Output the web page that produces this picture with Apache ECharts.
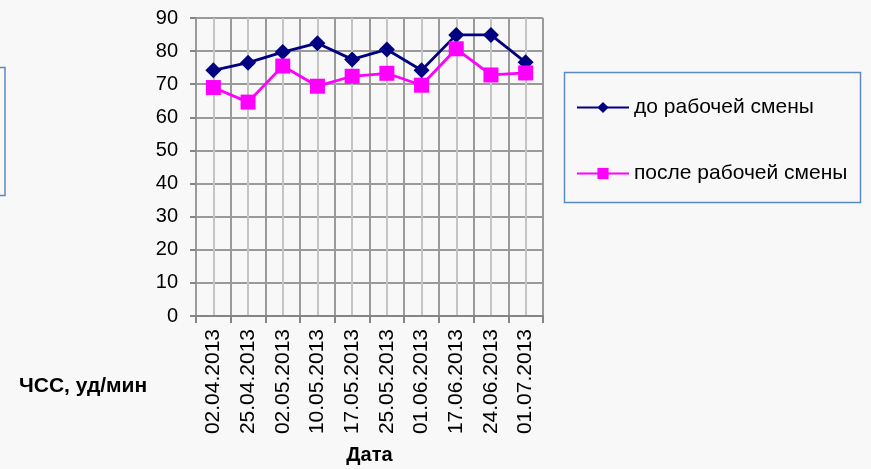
<!DOCTYPE html>
<html>
<head>
<meta charset="utf-8">
<script src="https://cdn.jsdelivr.net/npm/echarts@6/dist/echarts.min.js"></script>
<style>
  html, body { margin: 0; padding: 0; background: #f8f8f8; }
  #chart { width: 871px; height: 469px; }
</style>
</head>
<body>
<div id="chart"></div>
<script>
const dates = ['02.04.2013', '25.04.2013', '02.05.2013', '10.05.2013', '17.05.2013',
  '25.05.2013', '01.06.2013', '17.06.2013', '24.06.2013', '01.07.2013'];
const beforeShift = [74.2, 76.5, 79.7, 82.4, 77.5, 80.5, 74.2, 84.9, 84.9, 76.6];
const afterShift = [69.0, 64.6, 75.5, 69.4, 72.4, 73.3, 69.7, 80.7, 72.8, 73.4];
const seriesNames = ['до рабочей смены', 'после рабочей смены'];
const yTicks = { min: 0, max: 90, step: 10 };

const font = "'Liberation Sans', Arial, sans-serif";
const chart = echarts.init(document.getElementById('chart'));

const option = {
  backgroundColor: '#f8f8f8',
  animation: false,
  title: {
    text: 'ЧСС, уд/мин',
    left: 19,
    top: 376,
    padding: 0,
    textStyle: { fontFamily: font, fontSize: 21, fontWeight: 'bold', color: '#000' }
  },
  graphic: [
    // legend frame
    { type: 'rect', shape: { x: 564.5, y: 72.5, width: 296, height: 130 },
      style: { fill: 'none', stroke: '#5a8ac6', lineWidth: 1.5 }, z: 0 },
    // stray frame cut off at the left edge
    { type: 'rect', shape: { x: -50, y: 67.5, width: 55, height: 128 },
      style: { fill: 'none', stroke: '#5a8ac6', lineWidth: 1.5 }, z: 0 }
  ],
  legend: {
    orient: 'vertical',
    left: 576,
    top: 97,
    padding: 0,
    itemWidth: 52,
    itemHeight: 14,
    itemGap: 45,
    textStyle: { fontFamily: font, fontSize: 21, color: '#000' },
    data: seriesNames
  },
  grid: { left: 196, right: 328, top: 18, bottom: 153, outerBoundsMode: 'none' },
  xAxis: [
    {
      type: 'category',
      data: dates,
      boundaryGap: true,
      name: 'Дата',
      nameLocation: 'middle',
      nameGap: 129,
      nameTextStyle: { fontFamily: font, fontSize: 20, fontWeight: 'bold', color: '#000' },
      axisLine: { lineStyle: { color: '#858585', width: 2 } },
      axisTick: { show: true, length: 7, lineStyle: { color: '#858585', width: 2 } },
      axisLabel: { rotate: 90, margin: 13, fontFamily: font, fontSize: 21, color: '#000' },
      splitLine: { show: true, lineStyle: { color: '#9a9a9a', width: 2 } }
    },
    {
      // helper axis for the lighter lines through category centres
      type: 'value',
      min: 0,
      max: dates.length,
      interval: 1,
      show: true,
      axisLine: { show: false },
      axisTick: { show: false },
      axisLabel: { show: false },
      splitLine: { show: false },
      minorTick: { show: false, splitNumber: 2 },
      minorSplitLine: { show: true, lineStyle: { color: '#c4c4c4', width: 2 } }
    }
  ],
  yAxis: {
    type: 'value',
    min: yTicks.min,
    max: yTicks.max,
    interval: yTicks.step,
    axisLine: { show: true, lineStyle: { color: '#9a9a9a', width: 2 } },
    axisTick: { show: true, length: 6, lineStyle: { color: '#858585', width: 2 } },
    axisLabel: { margin: 18, fontFamily: font, fontSize: 20, color: '#000' },
    splitLine: { show: true, lineStyle: { color: '#9a9a9a', width: 2 } }
  },
  series: [
    {
      name: seriesNames[0],
      type: 'line',
      data: beforeShift,
      symbol: 'diamond',
      symbolSize: 16,
      itemStyle: { color: '#000080' },
      lineStyle: { color: '#000080', width: 2.8 },
      z: 3
    },
    {
      name: seriesNames[1],
      type: 'line',
      data: afterShift,
      symbol: 'rect',
      symbolSize: 15,
      itemStyle: { color: '#ff00ff' },
      lineStyle: { color: '#ff00ff', width: 2.8 },
      z: 4
    }
  ]
};

chart.setOption(option);
</script>
</body>
</html>
